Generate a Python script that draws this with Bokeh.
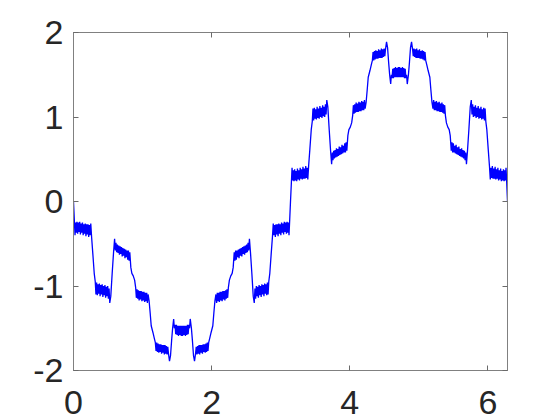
from bokeh.plotting import figure
from bokeh.models import Range1d, FixedTicker, LinearAxis, CustomJSTickFormatter
from bokeh.embed import file_html
from bokeh.resources import INLINE

# tick values
x_ticks = [0, 2, 4, 6]
y_ticks = [-2, -1, 0, 1, 2]

# curve, quarter by quarter
q1_x = [0, 0.012, 0.022, 0.032,
        0.04, 0.05, 0.06, 0.07, 0.08, 0.09, 0.10, 0.11, 0.12, 0.13, 0.14, 0.15, 0.16, 0.17, 0.18, 0.19, 0.20, 0.21, 0.22, 0.23, 0.24, 0.25,
        0.262, 0.28, 0.30, 0.315,
        0.325, 0.335, 0.345, 0.355, 0.365, 0.375, 0.385, 0.395, 0.405, 0.415, 0.425, 0.435, 0.445, 0.455, 0.465, 0.475, 0.485, 0.495, 0.505, 0.515,
        0.525,
        0.54, 0.56, 0.58, 0.595,
        0.605, 0.615, 0.625, 0.635, 0.645, 0.655, 0.665, 0.675, 0.685, 0.695, 0.705, 0.715, 0.725, 0.735, 0.745, 0.755, 0.765, 0.775, 0.785, 0.795, 0.805, 0.815,
        0.83, 0.845, 0.865, 0.885, 0.90,
        0.91, 0.92, 0.93, 0.94, 0.95, 0.96, 0.97, 0.98, 0.99, 1.00, 1.01, 1.02, 1.03, 1.04, 1.05, 1.06, 1.07, 1.08,
        1.095, 1.11, 1.125, 1.15, 1.17, 1.185,
        1.195, 1.205, 1.215, 1.225, 1.235, 1.245, 1.255, 1.265, 1.275, 1.285, 1.295, 1.305, 1.315, 1.325, 1.335, 1.345, 1.355, 1.365, 1.375,
        1.39,
        1.405, 1.42, 1.435, 1.45,
        1.46, 1.47, 1.48, 1.49, 1.50, 1.51, 1.52, 1.53, 1.54, 1.55, 1.56]
q1_y = [0, -0.22, -0.40, -0.25,
        -0.37, -0.24, -0.38, -0.25, -0.36, -0.24, -0.39, -0.26, -0.37, -0.25, -0.40, -0.27, -0.38, -0.26, -0.41, -0.27, -0.39, -0.27, -0.42, -0.28, -0.40, -0.26,
        -0.42, -0.62, -0.85, -0.95,
        -1.10, -0.96, -1.11, -0.98, -1.09, -0.97, -1.12, -0.99, -1.10, -0.98, -1.13, -1.00, -1.11, -0.99, -1.14, -1.01, -1.12, -1.00, -1.15, -1.03,
        -1.20,
        -1.12, -0.85, -0.60, -0.44,
        -0.58, -0.49, -0.60, -0.51, -0.61, -0.52, -0.63, -0.53, -0.62, -0.54, -0.65, -0.55, -0.64, -0.56, -0.67, -0.57, -0.66, -0.58, -0.69, -0.58, -0.70, -0.60,
        -0.78, -0.85, -0.88, -0.93, -1.02,
        -1.14, -1.04, -1.15, -1.05, -1.17, -1.06, -1.16, -1.06, -1.18, -1.07, -1.17, -1.07, -1.19, -1.08, -1.18, -1.08, -1.20, -1.10,
        -1.18, -1.32, -1.47, -1.55, -1.62, -1.67,
        -1.77, -1.67, -1.78, -1.68, -1.79, -1.69, -1.78, -1.69, -1.80, -1.70, -1.79, -1.70, -1.81, -1.70, -1.80, -1.71, -1.81, -1.72, -1.80,
        -1.89,
        -1.82, -1.65, -1.50, -1.39,
        -1.50, -1.46, -1.57, -1.46, -1.58, -1.47, -1.59, -1.47, -1.58, -1.47, -1.59]

q2_x = [1.57, 1.58, 1.59, 1.60, 1.61, 1.62, 1.63, 1.64, 1.65, 1.66, 1.67, 1.68,
        1.69,
        1.707, 1.722, 1.737, 1.752,
        1.767, 1.777, 1.787, 1.797, 1.807, 1.817, 1.827, 1.837, 1.847, 1.857, 1.867, 1.877, 1.887, 1.897, 1.907, 1.917, 1.927, 1.937, 1.947,
        1.957, 1.972, 1.992, 2.017, 2.032, 2.047,
        2.062, 2.072, 2.082, 2.092, 2.102, 2.112, 2.122, 2.132, 2.142, 2.152, 2.162, 2.172, 2.182, 2.192, 2.202, 2.212, 2.222, 2.232,
        2.242, 2.257, 2.277, 2.297, 2.312,
        2.327, 2.337, 2.347, 2.357, 2.367, 2.377, 2.387, 2.397, 2.407, 2.417, 2.427, 2.437, 2.447, 2.457, 2.467, 2.477, 2.487, 2.497, 2.507, 2.517, 2.527, 2.537,
        2.547, 2.562, 2.582, 2.602, 2.617,
        2.627, 2.637, 2.647, 2.657, 2.667, 2.677, 2.687, 2.697, 2.707, 2.717, 2.727, 2.737, 2.747, 2.757, 2.767, 2.777, 2.787, 2.797, 2.807, 2.817,
        2.827, 2.842, 2.862, 2.880,
        2.892, 2.902, 2.912, 2.922, 2.932, 2.942, 2.952, 2.962, 2.972, 2.982, 2.992, 3.002, 3.012, 3.022, 3.032, 3.042, 3.052, 3.062, 3.072, 3.082, 3.092, 3.102,
        3.110, 3.120, 3.130]
q2_y = [-1.47, -1.59, -1.47, -1.58, -1.47, -1.59, -1.47, -1.58, -1.46, -1.57, -1.46, -1.50,
        -1.39,
        -1.50, -1.65, -1.82, -1.89,
        -1.80, -1.72, -1.81, -1.71, -1.80, -1.70, -1.81, -1.70, -1.79, -1.70, -1.80, -1.69, -1.78, -1.69, -1.79, -1.68, -1.78, -1.67, -1.77,
        -1.67, -1.62, -1.55, -1.47, -1.32, -1.18,
        -1.10, -1.20, -1.08, -1.18, -1.08, -1.19, -1.07, -1.17, -1.07, -1.18, -1.06, -1.16, -1.06, -1.17, -1.05, -1.15, -1.04, -1.14,
        -1.02, -0.93, -0.88, -0.85, -0.78,
        -0.60, -0.70, -0.58, -0.69, -0.58, -0.66, -0.57, -0.67, -0.56, -0.64, -0.55, -0.65, -0.54, -0.62, -0.53, -0.63, -0.52, -0.61, -0.51, -0.60, -0.49, -0.58,
        -0.44, -0.60, -0.85, -1.12, -1.20,
        -1.03, -1.15, -1.00, -1.12, -1.01, -1.14, -0.99, -1.11, -1.00, -1.13, -0.98, -1.10, -0.99, -1.12, -0.97, -1.09, -0.98, -1.11, -0.96, -1.10,
        -0.95, -0.85, -0.62, -0.42,
        -0.26, -0.40, -0.28, -0.42, -0.27, -0.39, -0.27, -0.41, -0.26, -0.38, -0.27, -0.40, -0.25, -0.37, -0.26, -0.39, -0.24, -0.36, -0.25, -0.38, -0.24, -0.37,
        -0.25, -0.40, -0.22]

q3_x = [3.1416, 3.154, 3.164, 3.174,
        3.182, 3.192, 3.202, 3.212, 3.222, 3.232, 3.242, 3.252, 3.262, 3.272, 3.282, 3.292, 3.302, 3.312, 3.322, 3.332, 3.342, 3.352, 3.362, 3.372, 3.382, 3.392,
        3.404, 3.422, 3.442, 3.457,
        3.467, 3.477, 3.487, 3.497, 3.507, 3.517, 3.527, 3.537, 3.547, 3.557, 3.567, 3.577, 3.587, 3.597, 3.607, 3.617, 3.627, 3.637, 3.647, 3.657,
        3.667,
        3.682, 3.702, 3.722, 3.737,
        3.747, 3.757, 3.767, 3.777, 3.787, 3.797, 3.807, 3.817, 3.827, 3.837, 3.847, 3.857, 3.867, 3.877, 3.887, 3.897, 3.907, 3.917, 3.927, 3.937, 3.947, 3.957,
        3.972, 3.987, 4.007, 4.027, 4.042,
        4.052, 4.062, 4.072, 4.082, 4.092, 4.102, 4.112, 4.122, 4.132, 4.142, 4.152, 4.162, 4.172, 4.182, 4.192, 4.202, 4.212, 4.222,
        4.237, 4.252, 4.267, 4.292, 4.312, 4.327,
        4.337, 4.347, 4.357, 4.367, 4.377, 4.387, 4.397, 4.407, 4.417, 4.427, 4.437, 4.447, 4.457, 4.467, 4.477, 4.487, 4.497, 4.507, 4.517,
        4.532,
        4.547, 4.562, 4.577, 4.592,
        4.602, 4.612, 4.622, 4.632, 4.642, 4.652, 4.662, 4.672, 4.682, 4.692, 4.702]
q3_y = [0, 0.22, 0.40, 0.25,
        0.37, 0.24, 0.38, 0.25, 0.36, 0.24, 0.39, 0.26, 0.37, 0.25, 0.40, 0.27, 0.38, 0.26, 0.41, 0.27, 0.39, 0.27, 0.42, 0.28, 0.40, 0.26,
        0.42, 0.62, 0.85, 0.95,
        1.10, 0.96, 1.11, 0.98, 1.09, 0.97, 1.12, 0.99, 1.10, 0.98, 1.13, 1.00, 1.11, 0.99, 1.14, 1.01, 1.12, 1.00, 1.15, 1.03,
        1.20,
        1.12, 0.85, 0.60, 0.44,
        0.58, 0.49, 0.60, 0.51, 0.61, 0.52, 0.63, 0.53, 0.62, 0.54, 0.65, 0.55, 0.64, 0.56, 0.67, 0.57, 0.66, 0.58, 0.69, 0.58, 0.70, 0.60,
        0.78, 0.85, 0.88, 0.93, 1.02,
        1.14, 1.04, 1.15, 1.05, 1.17, 1.06, 1.16, 1.06, 1.18, 1.07, 1.17, 1.07, 1.19, 1.08, 1.18, 1.08, 1.20, 1.10,
        1.18, 1.32, 1.47, 1.55, 1.62, 1.67,
        1.77, 1.67, 1.78, 1.68, 1.79, 1.69, 1.78, 1.69, 1.80, 1.70, 1.79, 1.70, 1.81, 1.70, 1.80, 1.71, 1.81, 1.72, 1.80,
        1.89,
        1.82, 1.65, 1.50, 1.39,
        1.50, 1.46, 1.57, 1.46, 1.58, 1.47, 1.59, 1.47, 1.58, 1.47, 1.59]

q4_x = [4.712, 4.722, 4.732, 4.742, 4.752, 4.762, 4.772, 4.782, 4.792, 4.802, 4.812, 4.822,
        4.832,
        4.849, 4.864, 4.879, 4.894,
        4.909, 4.919, 4.929, 4.939, 4.949, 4.959, 4.969, 4.979, 4.989, 4.999, 5.009, 5.019, 5.029, 5.039, 5.049, 5.059, 5.069, 5.079, 5.089,
        5.099, 5.114, 5.134, 5.159, 5.174, 5.189,
        5.204, 5.214, 5.224, 5.234, 5.244, 5.254, 5.264, 5.274, 5.284, 5.294, 5.304, 5.314, 5.324, 5.334, 5.344, 5.354, 5.364, 5.374,
        5.384, 5.399, 5.419, 5.439, 5.454,
        5.469, 5.479, 5.489, 5.499, 5.509, 5.519, 5.529, 5.539, 5.549, 5.559, 5.569, 5.579, 5.589, 5.599, 5.609, 5.619, 5.629, 5.639, 5.649, 5.659, 5.669, 5.679,
        5.689, 5.704, 5.724, 5.744, 5.759,
        5.769, 5.779, 5.789, 5.799, 5.809, 5.819, 5.829, 5.839, 5.849, 5.859, 5.869, 5.879, 5.889, 5.899, 5.909, 5.919, 5.929, 5.939, 5.949, 5.959,
        5.969, 5.984, 6.004, 6.022,
        6.034, 6.044, 6.054, 6.064, 6.074, 6.084, 6.094, 6.104, 6.114, 6.124, 6.134, 6.144, 6.154, 6.164, 6.174, 6.184, 6.194, 6.204, 6.214, 6.224, 6.234, 6.244,
        6.252, 6.262, 6.272,
        6.2832]
q4_y = [1.47, 1.59, 1.47, 1.58, 1.47, 1.59, 1.47, 1.58, 1.46, 1.57, 1.46, 1.50,
        1.39,
        1.50, 1.65, 1.82, 1.89,
        1.80, 1.72, 1.81, 1.71, 1.80, 1.70, 1.81, 1.70, 1.79, 1.70, 1.80, 1.69, 1.78, 1.69, 1.79, 1.68, 1.78, 1.67, 1.77,
        1.67, 1.62, 1.55, 1.47, 1.32, 1.18,
        1.10, 1.20, 1.08, 1.18, 1.08, 1.19, 1.07, 1.17, 1.07, 1.18, 1.06, 1.16, 1.06, 1.17, 1.05, 1.15, 1.04, 1.14,
        1.02, 0.93, 0.88, 0.85, 0.78,
        0.60, 0.70, 0.58, 0.69, 0.58, 0.66, 0.57, 0.67, 0.56, 0.64, 0.55, 0.65, 0.54, 0.62, 0.53, 0.63, 0.52, 0.61, 0.51, 0.60, 0.49, 0.58,
        0.44, 0.60, 0.85, 1.12, 1.20,
        1.03, 1.15, 1.00, 1.12, 1.01, 1.14, 0.99, 1.11, 1.00, 1.13, 0.98, 1.10, 0.99, 1.12, 0.97, 1.09, 0.98, 1.11, 0.96, 1.10,
        0.95, 0.85, 0.62, 0.42,
        0.26, 0.40, 0.28, 0.42, 0.27, 0.39, 0.27, 0.41, 0.26, 0.38, 0.27, 0.40, 0.25, 0.37, 0.26, 0.39, 0.24, 0.36, 0.25, 0.38, 0.24, 0.37,
        0.25, 0.40, 0.22,
        0]

x = q1_x + q2_x + q3_x + q4_x
y = q1_y + q2_y + q3_y + q4_y

FONT = "Liberation Sans"
AX = "#808080"
TXT = "#262626"

p = figure(width=560, height=420, output_backend="svg", toolbar_location=None,
           x_range=Range1d(0, max(x)), y_range=Range1d(min(y_ticks), max(y_ticks)),
           min_border_left=73, min_border_right=53, min_border_top=32, min_border_bottom=50)
p.background_fill_color = "white"
p.border_fill_color = "white"
p.outline_line_color = AX
p.outline_line_width = 1
p.xgrid.visible = False
p.ygrid.visible = False

p.line(x, y, line_color="#0000ff", line_width=1.3)

def style(ax, ticks, labels=True, standoff=10):
    ax.ticker = FixedTicker(ticks=ticks)
    ax.axis_line_color = AX
    ax.major_tick_line_color = "#6a6a6a"
    ax.major_tick_in = 5
    ax.major_tick_out = 0
    ax.minor_tick_line_color = None
    ax.major_label_text_font = FONT
    ax.major_label_text_font_size = "34px"
    ax.major_label_text_color = TXT
    ax.major_label_standoff = standoff
    if labels:
        ax.formatter = CustomJSTickFormatter(code="return String(tick)")
    else:
        ax.formatter = CustomJSTickFormatter(code="return ''")
        ax.major_label_text_font_size = "1px"
        ax.major_label_standoff = 0

style(p.xaxis[0], x_ticks, standoff=20)
p.xaxis[0].major_label_text_line_height = 0.8
style(p.yaxis[0], y_ticks, standoff=10)

top = LinearAxis()
style(top, x_ticks, labels=False)
p.add_layout(top, "above")
right = LinearAxis()
style(right, y_ticks, labels=False)
p.add_layout(right, "right")

open("out.html", "w").write(file_html(p, INLINE))
